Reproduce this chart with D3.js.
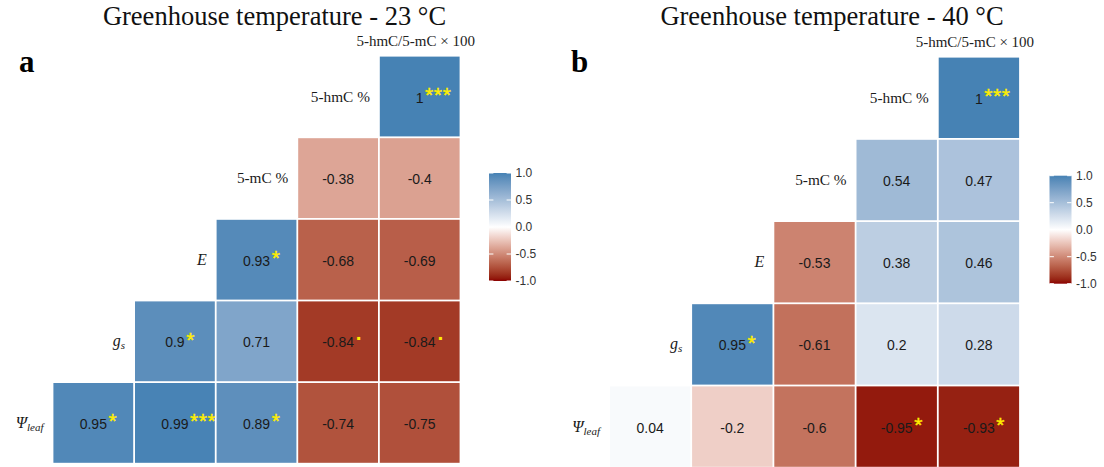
<!DOCTYPE html>
<html>
<head>
<meta charset="utf-8">
<script src="https://cdn.jsdelivr.net/npm/d3@7"></script>
<style>
  body { margin: 0; background: #fff; }
  svg { display: block; }
</style>
</head>
<body>
<svg id="chart" width="1104" height="467"></svg>
<script>
// Variables along the diagonal; text after "_" is set as a subscript
const variables = ["5-hmC %", "5-mC %", "E", "g_s", "Ψ_leaf"];
const italicVariables = [false, false, true, true, true];
const topHeader = "5-hmC/5-mC × 100";
const panelTitles = ["Greenhouse temperature - 23 °C", "Greenhouse temperature - 40 °C"];
const panelLetters = ["a", "b"];

// Pearson r, laid out row by row (null = empty position)
const cor23 = [
  [null, null, null, null, 1],
  [null, null, null, -0.38, -0.4],
  [null, null, 0.93, -0.68, -0.69],
  [null, 0.9, 0.71, -0.84, -0.84],
  [0.95, 0.99, 0.89, -0.74, -0.75]
];
const sig23 = [
  ["", "", "", "", "***"],
  ["", "", "", "", ""],
  ["", "", "*", "", ""],
  ["", "*", "", ".", "."],
  ["*", "***", "*", "", ""]
];

const cor40 = [
  [null, null, null, null, 1],
  [null, null, null, 0.54, 0.47],
  [null, null, -0.53, 0.38, 0.46],
  [null, 0.95, -0.61, 0.2, 0.28],
  [0.04, -0.2, -0.6, -0.95, -0.93]
];
const sig40 = [
  ["", "", "", "", "***"],
  ["", "", "", "", ""],
  ["", "", "", "", ""],
  ["", "*", "", "", ""],
  ["", "", "", "*", "*"]
];

const legendTicks = [1, 0.5, 0, -0.5, -1];

// Panel placement
const panels = [
  { title: panelTitles[0], letter: panelLetters[0], cor: cor23, sig: sig23,
    left: 52.5, top: 55.7, pitch: 81.6, titleX: 274.5, letterX: 19,
    legendX: 489, legendTop: 173, legendBottom: 281 },
  { title: panelTitles[1], letter: panelLetters[1], cor: cor40, sig: sig40,
    left: 609, top: 56.7, pitch: 82.2, titleX: 832, letterX: 571,
    legendX: 1049.5, legendTop: 175.7, legendBottom: 283.7 }
];

const SERIF = "'Liberation Serif', 'Times New Roman', serif";
const SANS = "'Liberation Sans', Arial, sans-serif";
const MARK = "#FFEE00";

const color = d3.scaleLinear()
  .domain([-1, 0, 1])
  .range(["#8B0000", "#FFFFFF", "#4682B4"])
  .interpolate(d3.interpolateLab);

const svg = d3.select("#chart");
const defs = svg.append("defs");

// Vertical gradient for the colour bars (top = +1)
const grad = defs.append("linearGradient")
  .attr("id", "corrGradient")
  .attr("x1", 0).attr("y1", 0).attr("x2", 0).attr("y2", 1);
d3.range(0, 41).forEach(i => {
  const t = i / 40;
  grad.append("stop")
    .attr("offset", t)
    .attr("stop-color", color(1 - 2 * t));
});

const fmt = v => String(v);

panels.forEach(p => {
  const g = svg.append("g");
  const n = variables.length;
  const idx = d3.range(n);
  const x = d3.scaleBand().domain(idx).range([p.left, p.left + n * p.pitch]);
  const y = d3.scaleBand().domain(idx).range([p.top, p.top + n * p.pitch]);
  const bw = x.bandwidth();

  // Title and panel letter
  g.append("text")
    .attr("x", p.titleX).attr("y", 25)
    .attr("text-anchor", "middle")
    .style("font-family", SERIF).style("font-size", "26.5px").style("fill", "#111")
    .text(p.title);
  g.append("text")
    .attr("x", p.letterX).attr("y", 72)
    .style("font-family", SERIF).style("font-size", "31px").style("font-weight", "bold")
    .style("fill", "#000")
    .text(p.letter);

  // Column header above the last column
  g.append("text")
    .attr("x", x(n - 1) + bw / 2 - 4).attr("y", p.top - 9.5)
    .attr("text-anchor", "middle")
    .style("font-family", SERIF).style("font-size", "15px").style("fill", "#222")
    .text(topHeader);

  // Cells
  const cells = [];
  p.cor.forEach((row, r) => row.forEach((v, c) => {
    if (v !== null) cells.push({ r, c, v, s: p.sig[r][c] });
  }));

  g.selectAll("rect.cell").data(cells).join("rect")
    .attr("class", "cell")
    .attr("x", d => x(d.c) + 0.9)
    .attr("y", d => y(d.r) + 0.9)
    .attr("width", bw - 1.8)
    .attr("height", bw - 1.8)
    .attr("fill", d => color(d.v));

  // Values with significance marks
  cells.forEach(d => {
    const cx = x(d.c) + bw / 2;
    const cy = y(d.r) + bw / 2;
    const t = g.append("text")
      .attr("x", cx).attr("y", cy + 6)
      .attr("text-anchor", "middle")
      .style("font-family", SANS).style("font-size", "14px").style("fill", "#1a1a1a")
      .text(fmt(d.v));
    if (d.s) {
      const w = t.node().getComputedTextLength();
      const numEnd = cx + w / 2;
      const numMid = cy + 1.2;
      if (d.s === ".") {
        g.append("text")
          .attr("x", numEnd + 1.8).attr("y", numMid - 2.4)
          .style("font-family", SANS).style("font-size", "21px").style("font-weight", "bold")
          .style("fill", MARK)
          .text(d.s);
      } else {
        const fs = 21;
        g.append("text")
          .attr("x", numEnd + 1.5).attr("y", numMid - 8 + 0.58 * fs)
          .style("font-family", SANS).style("font-size", fs + "px")
          .style("letter-spacing", "0.6px")
          .style("stroke", MARK).style("stroke-width", 0.4)
          .style("fill", MARK)
          .text(d.s);
      }
    }
  });

  // Row labels on the diagonal
  variables.forEach((name, r) => {
    const first = n - 1 - r;
    const parts = name.split("_");
    const t = g.append("text")
      .attr("x", x(first) - 9)
      .attr("y", y(r) + bw / 2 + 5)
      .attr("text-anchor", "end")
      .style("font-family", SERIF).style("font-size", "15.3px").style("fill", "#1a1a1a")
      .style("font-style", italicVariables[r] ? "italic" : "normal");
    t.append("tspan").style("font-size", italicVariables[r] ? "16px" : null).text(parts[0]);
    if (parts[1]) {
      t.append("tspan").attr("dy", 3).style("font-size", "11px").text(parts[1]);
    }
  });

  // Colour bar legend
  const lg = g.append("g");
  const barW = 22;
  const ls = d3.scaleLinear().domain([-1, 1]).range([p.legendBottom, p.legendTop]);
  lg.append("rect")
    .attr("x", p.legendX).attr("y", p.legendTop)
    .attr("width", barW).attr("height", p.legendBottom - p.legendTop)
    .attr("fill", "url(#corrGradient)");
  const tickLen = barW / 5;
  legendTicks.forEach(v => {
    lg.append("line")
      .attr("x1", p.legendX).attr("x2", p.legendX + tickLen)
      .attr("y1", ls(v)).attr("y2", ls(v))
      .attr("stroke", "#fff").attr("stroke-width", 1);
    lg.append("line")
      .attr("x1", p.legendX + barW - tickLen).attr("x2", p.legendX + barW)
      .attr("y1", ls(v)).attr("y2", ls(v))
      .attr("stroke", "#fff").attr("stroke-width", 1);
  });
  const axis = d3.axisRight(ls)
    .tickValues(legendTicks)
    .tickSize(0)
    .tickPadding(4.5)
    .tickFormat(v => v.toFixed(1));
  const ax = lg.append("g")
    .attr("transform", `translate(${p.legendX + barW},0)`)
    .call(axis);
  ax.select(".domain").remove();
  ax.selectAll("text")
    .style("font-family", SANS).style("font-size", "12px").style("fill", "#333");
});
</script>
</body>
</html>
